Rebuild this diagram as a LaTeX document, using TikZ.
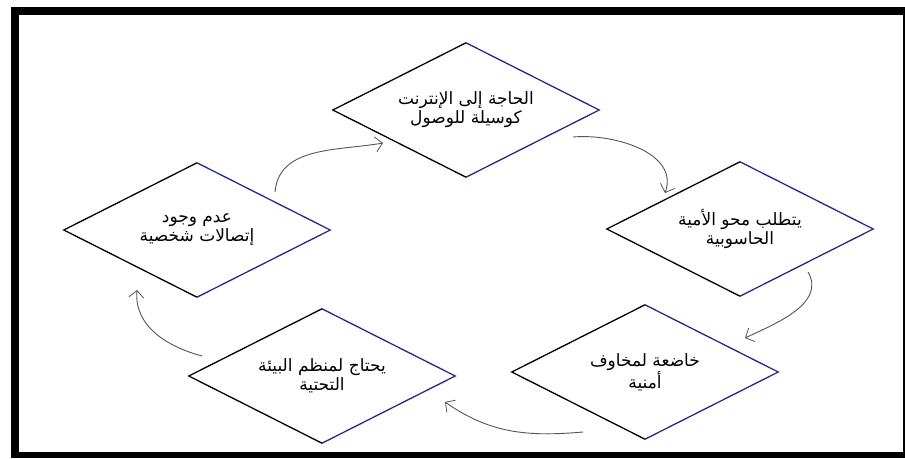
\documentclass[tikz,border=0pt]{standalone}
\usepackage{fontspec}
\newfontfamily\arabicfont[Script=Arabic]{DejaVu Sans}
\TeXXeTstate=1
\usetikzlibrary{shapes.geometric,arrows.meta}
\definecolor{navyedge}{RGB}{40,40,135}
\definecolor{arrowgray}{RGB}{85,85,85}
\tikzset{
  dia/.style={diamond, aspect=2, minimum width=266pt, minimum height=134pt, inner sep=0pt,
    font=\arabicfont\fontsize{17}{19}\selectfont, align=center},
  leftedge/.style={draw=black, line width=1.3pt, line join=miter},
  rightedge/.style={draw=navyedge, line width=1.3pt, line join=miter},
  cyc/.style={draw=arrowgray, line width=0.9pt, -{Straight Barb[length=7pt,width=15pt,line width=0.8pt]}}
}
\newcommand{\drawdia}[1]{%
  \path[rightedge] (#1.north) -- (#1.east) -- (#1.south);
  \path[leftedge] (#1.south) -- (#1.west) -- (#1.north);
}
\begin{document}
\begin{tikzpicture}[x=1pt,y=1pt]
\useasboundingbox (0,0) rectangle (905,-458);
\fill[white] (0,0) rectangle (905,-458);
\fill[black] (11,-7) rectangle (905,-458);
\fill[white] (19,-15) rectangle (903,-452);

\node[dia] (T) at (466,-110) {\beginR الحاجة إلى الإنترنت\endR\\\beginR كوسيلة للوصول\endR};
\node[dia] (R) at (740,-229) {\beginR يتطلب محو الأمية\endR\\\beginR الحاسوبية\endR};
\node[dia] (BR) at (645,-372) {\beginR خاضعة لمخاوف\endR\\\beginR أمنية\endR};
\node[dia] (BL) at (322,-376) {\beginR يحتاج لمنظم البيئة\endR\\\beginR التحتية\endR};
\node[dia] (L) at (197,-230) {\beginR عدم وجود\endR\\\beginR إتصالات شخصية\endR};

\drawdia{T}
\drawdia{R}
\drawdia{BR}
\drawdia{BL}
\drawdia{L}

\coordinate (a1) at (275,-192);
\coordinate (a2) at (383,-143);
\coordinate (b1) at (573,-137);
\coordinate (b2) at (665,-193);
\coordinate (c1) at (808,-272);
\coordinate (c2) at (745,-338);
\coordinate (d1) at (583,-432);
\coordinate (d2) at (445,-402);
\coordinate (e1) at (202,-356);
\coordinate (e2) at (137,-290);

\draw[cyc] (a1) to[out=85,in=190] (a2);
\draw[cyc] (b1) to[out=5,in=70] (b2);
\draw[cyc] (c1) to[out=-60,in=25] (c2);
\draw[cyc] (d1) to[out=185,in=-35] (d2);
\draw[cyc] (e1) to[out=165,in=-95] (e2);
\end{tikzpicture}
\end{document}
